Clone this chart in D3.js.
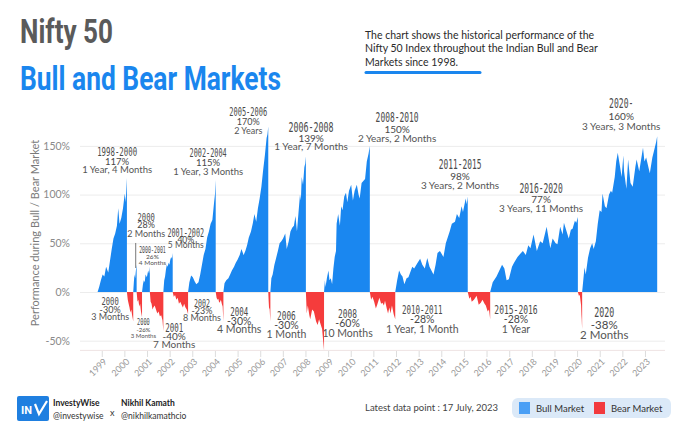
<!DOCTYPE html>
<html><head><meta charset="utf-8">
<script src="https://cdn.jsdelivr.net/npm/d3@7"></script>
<style>
body{margin:0;background:#fff;}
svg{display:block;font-family:Lato,"Open Sans",sans-serif;}
</style></head><body>
<svg id="c" width="690" height="431"></svg>
<script>
// ---------- DATA (cumulative % performance since start of each phase) ----------
const bull1998 = [["1998-10-26",0],["1998-11-20",5],["1998-12-18",12],["1999-01-15",18],["1999-02-12",16],["1999-03-12",26],["1999-04-16",20],["1999-05-14",32],["1999-06-11",44],["1999-07-09",55],["1999-08-06",60],["1999-09-03",68],["1999-09-24",86],["1999-10-15",70],["1999-11-12",76],["1999-12-10",86],["2000-01-07",101],["2000-01-21",92],["2000-02-11",117]];
const bear2000a = [["2000-02-11",0],["2000-02-25",-8],["2000-03-10",-12],["2000-03-24",-16],["2000-04-07",-21],["2000-04-21",-18],["2000-05-05",-24],["2000-05-23",-30]];
const bull2000a = [["2000-05-23",0],["2000-06-02",10],["2000-06-12",18],["2000-06-23",14],["2000-07-05",22],["2000-07-17",28]];
const bear2000b = [["2000-07-17",0],["2000-07-31",-10],["2000-08-14",-8],["2000-08-28",-15],["2000-09-11",-12],["2000-09-25",-20],["2000-10-12",-26]];
const bull2000b = [["2000-10-12",0],["2000-10-27",8],["2000-11-10",12],["2000-11-24",10],["2000-12-08",18],["2000-12-29",15],["2001-01-19",22],["2001-02-02",19],["2001-02-15",26]];
const bear2001 = [["2001-02-15",0],["2001-02-28",-10],["2001-03-15",-12],["2001-03-30",-18],["2001-04-12",-16],["2001-05-04",-14],["2001-05-25",-18],["2001-06-15",-22],["2001-07-06",-20],["2001-07-27",-25],["2001-08-17",-24],["2001-09-07",-29],["2001-09-21",-40]];
const bull2001 = [["2001-09-21",0],["2001-10-05",12],["2001-10-19",16],["2001-11-02",23],["2001-11-16",28],["2001-11-30",26],["2001-12-14",30],["2001-12-28",28],["2002-01-11",33],["2002-01-25",36],["2002-02-08",34],["2002-02-19",40]];
const bear2002 = [["2002-02-19",0],["2002-03-08",-5],["2002-03-29",-3],["2002-04-19",-8],["2002-05-10",-6],["2002-05-31",-12],["2002-06-21",-10],["2002-07-12",-13],["2002-08-02",-16],["2002-08-23",-12],["2002-09-13",-16],["2002-10-04",-18],["2002-10-25",-23]];
const bull2002 = [["2002-10-25",0],["2002-11-15",10],["2002-12-13",17],["2003-01-10",15],["2003-02-07",11],["2003-03-07",8],["2003-04-11",10],["2003-05-09",18],["2003-06-06",28],["2003-07-04",38],["2003-08-01",44],["2003-08-29",56],["2003-09-26",62],["2003-10-24",70],["2003-11-21",74],["2003-12-19",92],["2004-01-02",100],["2004-01-14",115]];
const bear2004 = [["2004-01-14",0],["2004-01-28",-6],["2004-02-11",-8],["2004-02-25",-7],["2004-03-10",-11],["2004-03-24",-10],["2004-04-07",-8],["2004-04-21",-12],["2004-05-05",-15],["2004-05-17",-30]];
const bull2004 = [["2004-05-17",0],["2004-06-04",9],["2004-07-02",12],["2004-08-06",14],["2004-09-03",18],["2004-10-01",22],["2004-11-05",26],["2004-12-03",30],["2004-12-31",33],["2005-02-04",38],["2005-03-04",44],["2005-04-08",38],["2005-05-06",42],["2005-06-03",48],["2005-07-01",56],["2005-08-05",62],["2005-09-02",70],["2005-09-30",80],["2005-10-28",72],["2005-11-25",86],["2005-12-23",96],["2006-01-20",108],["2006-02-17",125],["2006-03-17",140],["2006-04-14",158],["2006-04-28",162],["2006-05-11",170]];
const bear2006 = [["2006-05-11",0],["2006-05-18",-10],["2006-05-25",-18],["2006-06-01",-16],["2006-06-08",-24],["2006-06-14",-30]];
const bull2006 = [["2006-06-14",0],["2006-06-30",14],["2006-07-21",18],["2006-08-18",28],["2006-09-15",35],["2006-10-13",42],["2006-11-10",50],["2006-12-08",52],["2007-01-05",55],["2007-02-09",60],["2007-03-05",44],["2007-04-06",52],["2007-05-04",62],["2007-06-01",66],["2007-06-29",68],["2007-07-24",78],["2007-08-17",62],["2007-09-14",84],["2007-10-05",100],["2007-10-19",94],["2007-11-02",118],["2007-11-23",110],["2007-12-14",128],["2007-12-28",132],["2008-01-08",139]];
const bear2008 = [["2008-01-08",0],["2008-01-22",-22],["2008-02-08",-14],["2008-03-04",-24],["2008-03-18",-28],["2008-04-18",-18],["2008-05-16",-20],["2008-06-20",-30],["2008-07-15",-34],["2008-08-08",-28],["2008-09-05",-34],["2008-09-26",-38],["2008-10-10",-48],["2008-10-27",-60]];
const bull2008 = [["2008-10-27",0],["2008-11-10",12],["2008-11-20",5],["2008-12-12",14],["2009-01-06",22],["2009-01-23",12],["2009-02-13",14],["2009-03-06",8],["2009-03-27",24],["2009-04-17",36],["2009-05-08",42],["2009-05-18",70],["2009-06-12",80],["2009-07-10",68],["2009-07-31",88],["2009-08-21",84],["2009-09-18",98],["2009-10-16",102],["2009-11-06",92],["2009-12-04",104],["2010-01-08",110],["2010-02-05",94],["2010-03-05",104],["2010-04-09",110],["2010-05-07",100],["2010-05-25",96],["2010-06-25",112],["2010-07-23",114],["2010-08-20",116],["2010-09-17",134],["2010-10-15",142],["2010-11-05",150]];
const bear2010 = [["2010-11-05",0],["2010-11-26",-8],["2010-12-17",-5],["2011-01-14",-10],["2011-02-10",-17],["2011-03-04",-13],["2011-04-08",-6],["2011-05-06",-12],["2011-05-27",-11],["2011-06-20",-14],["2011-07-08",-9],["2011-08-05",-17],["2011-08-26",-22],["2011-09-16",-16],["2011-10-04",-22],["2011-10-28",-14],["2011-11-25",-23],["2011-12-20",-28]];
const bull2011 = [["2011-12-20",0],["2012-01-20",12],["2012-02-20",22],["2012-03-20",18],["2012-04-15",16],["2012-05-15",8],["2012-06-20",14],["2012-07-20",15],["2012-09-20",26],["2012-10-20",24],["2012-12-15",30],["2013-01-25",34],["2013-03-01",28],["2013-04-10",24],["2013-05-20",35],["2013-06-25",26],["2013-08-28",18],["2013-10-01",28],["2013-11-01",40],["2013-12-10",42],["2014-02-05",36],["2014-03-15",50],["2014-05-16",62],["2014-06-20",70],["2014-08-10",72],["2014-09-10",80],["2014-10-17",76],["2014-11-25",88],["2014-12-17",82],["2015-01-30",96],["2015-02-15",90],["2015-03-04",98]];
const bear2015 = [["2015-03-04",0],["2015-03-30",-7],["2015-04-20",-5],["2015-05-07",-10],["2015-06-12",-8],["2015-07-25",-4],["2015-08-28",-13],["2015-09-30",-11],["2015-10-28",-8],["2015-11-30",-12],["2015-12-20",-14],["2016-01-20",-20],["2016-02-10",-18],["2016-02-29",-28]];
const bull2016 = [["2016-02-29",0],["2016-04-10",10],["2016-06-10",16],["2016-08-10",24],["2016-09-08",28],["2016-10-15",24],["2016-11-20",12],["2016-12-26",13],["2017-02-15",26],["2017-03-20",30],["2017-05-15",36],["2017-07-10",40],["2017-08-10",42],["2017-09-25",38],["2017-11-05",48],["2017-12-10",45],["2018-01-29",59],["2018-03-23",42],["2018-05-15",52],["2018-06-25",50],["2018-08-28",67],["2018-10-26",45],["2018-12-03",55],["2019-01-20",50],["2019-02-19",49],["2019-04-03",67],["2019-05-13",59],["2019-06-03",71],["2019-08-20",55],["2019-09-23",64],["2019-10-20",65],["2019-11-27",73],["2019-12-20",71],["2020-01-14",77]];
const bear2020 = [["2020-01-14",0],["2020-01-31",-4],["2020-02-14",-3],["2020-02-28",-10],["2020-03-06",-14],["2020-03-12",-24],["2020-03-16",-28],["2020-03-19",-33],["2020-03-23",-38]];
const bull2020 = [["2020-03-23",0],["2020-04-30",25],["2020-05-20",18],["2020-06-25",35],["2020-07-30",45],["2020-09-01",50],["2020-09-25",44],["2020-10-30",52],["2020-11-30",70],["2020-12-31",84],["2021-01-29",82],["2021-02-15",101],["2021-03-25",88],["2021-04-20",86],["2021-05-31",100],["2021-06-30",104],["2021-07-20",102],["2021-08-31",118],["2021-09-24",134],["2021-10-19",143],["2021-11-26",128],["2021-12-20",118],["2022-01-17",140],["2022-01-28",124],["2022-03-07",106],["2022-04-04",136],["2022-05-12",112],["2022-06-17",108],["2022-07-29",128],["2022-08-19",136],["2022-09-30",124],["2022-11-30",148],["2022-12-23",134],["2023-01-20",138],["2023-03-20",122],["2023-04-30",138],["2023-05-31",146],["2023-06-30",154],["2023-07-17",160]];

const bullPhases = [bull1998,bull2000a,bull2000b,bull2001,bull2002,bull2004,bull2006,bull2008,bull2011,bull2016,bull2020];
const bearPhases = [bear2000a,bear2000b,bear2001,bear2002,bear2004,bear2006,bear2008,bear2010,bear2015,bear2020];

const tickYears = d3.range(1999, 2024);
const yTicks = [-50, 0, 50, 100, 150];

const annoYear = ["1998-2000","2002-2004","2005-2006","2006-2008","2008-2010","2011-2015","2016-2020","2020-",
  "2000","2000-2001","2001-2002","2000","2000","2001","2002","2004","2006","2008","2010-2011","2015-2016","2020"];
const annoPct = ["117%","115%","170%","139%","150%","98%","77%","160%",
  "28%","26%","40%","-30%","-26%","-40%","-23%","-30%","-30%","-60%","-28%","-28%","-38%"];
const annoDur = ["1 Year, 4 Months","1 Year, 3 Months","2 Years","1 Year, 7 Months","2 Years, 2 Months","3 Years, 2 Months","3 Years, 11 Months","3 Years, 3 Months",
  "2 Months","4 Months","5 Months","3 Months","3 Months","7 Months","8 Months","4 Months","1 Month","10 Months","1 Year, 1 Month","1 Year","2 Months"];

// ---------- LAYOUT (anchor in data space: fractional year, % ; then pixel offsets & sizes) ----------
const annoLayout = [
  [1999.68,139.1,8.8,17,40,13,9.5],
  [2003.70,138.9,9.5,18,37,13,9.5],
  [2005.47,180.7,9.2,18.5,38,12.5,9],
  [2008.25,164.6,10.2,18.8,45,14,10],
  [2012.05,174.5,10.7,20,43,14,10],
  [2014.83,126.2,11,20,42.7,14,10],
  [2018.41,101.3,9.6,18.6,43.3,14,10],
  [2021.95,188.9,12,22,24.3,14,10],
  [2000.96,72.9,7.5,16.3,17.3,11,9],
  [2001.24,40.3,5.8,11.8,26.7,8,6.5],
  [2002.71,56.7,6,11,36.7,12,8.5],
  [1999.37,-13.4,7.5,15.2,17.3,11,9],
  [2000.84,-33.9,7,13,12.7,8,6],
  [2002.20,-40.8,8.5,15.8,18,12,10],
  [2003.43,-15.1,7,14.2,16,11,9],
  [2005.07,-24.7,8.5,16.9,18,13,10.5],
  [2007.16,-28.8,9.3,18.3,18.7,13,10.5],
  [2009.86,-27.0,9.2,18.4,19,13,10.5],
  [2013.16,-22.6,9.5,18.8,40.7,13,10.5],
  [2017.30,-22.6,9.5,18.8,43.3,13,10.5],
  [2021.20,-25.4,12.3,22.3,20,14,11.5]
];

const BULL = "#1a87f0", BEAR = "#f53c3c";
const parse = d3.timeParse("%Y-%m-%d");
const fy = f => { const yy = Math.floor(f), s = new Date(yy,0,1), e = new Date(yy+1,0,1); return new Date(+s + (f-yy)*(e-s)); };

const svg = d3.select("#c");
const x = d3.scaleTime().domain([new Date(1998,0,15), new Date(2023,10,20)]).range([80, 665]);
const y = d3.scaleLinear().domain([-60, 170]).range([350.4, 126.4]);

// gridlines + y labels
const yAxis = d3.axisLeft(y).tickValues(yTicks).tickSize(-585).tickPadding(10).tickFormat(d => d + "%");
const gy = svg.append("g").attr("transform","translate(80,0)").call(yAxis);
gy.select(".domain").remove();
gy.selectAll(".tick line").attr("stroke","#ececec").attr("stroke-width",1);
gy.selectAll(".tick text").attr("fill","#8a8a8a").attr("font-size",10.5).attr("font-family","Lato");
svg.append("line").attr("x1",80).attr("x2",665).attr("y1",y(-60)).attr("y2",y(-60)).attr("stroke","#efe4e4");

// areas
const area = d3.area().x(d => x(parse(d[0]))).y0(y(0)).y1(d => y(d[1]));
svg.append("g").selectAll("path").data(bullPhases).join("path").attr("d", area).attr("fill", BULL);
svg.append("g").selectAll("path").data(bearPhases).join("path").attr("d", area).attr("fill", BEAR);

// x axis
const xAxis = d3.axisBottom(x).tickValues(tickYears.map(v => new Date(v,0,1))).tickSize(6).tickFormat(d3.timeFormat("%Y"));
const gx = svg.append("g").attr("transform","translate(0,351)").call(xAxis);
gx.select(".domain").remove();
gx.selectAll(".tick line").attr("stroke","#dddddd");
gx.selectAll(".tick text").attr("fill","#9a9a9a").attr("font-size",9).attr("font-family","Lato")
  .attr("text-anchor","end").attr("transform","translate(3,9) rotate(-45)").attr("dy","0.35em").attr("y",0).attr("x",0);

// y axis title
svg.append("text").attr("transform","translate(39,233) rotate(-90)").attr("text-anchor","middle")
  .attr("font-size",11).attr("fill","#7a7a7a").text("Performance during Bull / Bear Market");

// leader line for 2000 (28%) annotation
svg.append("line").attr("x1",x(fy(2000.50))).attr("x2",x(fy(2000.50))).attr("y1",y(50.3)).attr("y2",y(24.6))
  .attr("stroke","#555").attr("stroke-width",0.8);

// annotations: one text block per phase, three lines as tspans
const ag = svg.append("g");
annoLayout.forEach((L,i) => {
  const cx = x(fy(L[0])), by = y(L[1]);
  const t = ag.append("text").attr("text-anchor","middle");
  t.append("tspan").attr("x",cx).attr("y",by)
    .attr("font-family","DejaVu Sans Mono").attr("font-size",L[5]).attr("fill","#4a4a4a")
    .attr("textLength",L[4]).attr("lengthAdjust","spacingAndGlyphs").text(annoYear[i]);
  t.append("tspan").attr("x",cx).attr("y",by+L[2])
    .attr("font-size",L[6]).attr("fill","#484848").text(annoPct[i]);
  t.append("tspan").attr("x",cx).attr("y",by+L[3])
    .attr("font-size",L[6]).attr("fill","#555").text(annoDur[i]);
});

// titles
svg.append("text").attr("x",20).attr("y",43).attr("font-family","Roboto").attr("font-weight",700)
  .attr("font-size",34).attr("fill","#5a5a5a").attr("textLength",93).attr("lengthAdjust","spacingAndGlyphs").text("Nifty 50");
svg.append("text").attr("x",20).attr("y",90).attr("font-family","Roboto").attr("font-weight",700)
  .attr("font-size",34).attr("fill","#1a86ee").attr("textLength",261).attr("lengthAdjust","spacingAndGlyphs").text("Bull and Bear Markets");

const desc = ["The chart shows the historical performance of the","Nifty 50 Index throughout the Indian Bull and Bear","Markets since 1998."];
svg.append("g").selectAll("text").data(desc).join("text").attr("x",365).attr("y",(d,i)=>38.5+i*13.5)
  .attr("font-size",10.5).attr("fill","#2a2a2a").text(d=>d);
svg.append("line").attr("x1",366).attr("x2",480).attr("y1",72.5).attr("y2",72.5)
  .attr("stroke","#1a86ee").attr("stroke-width",3).attr("stroke-linecap","round");

// footer
svg.append("rect").attr("x",17).attr("y",396).attr("width",32).attr("height",25).attr("rx",2).attr("fill","#1f7fe0");
svg.append("text").attr("x",21).attr("y",413.5).attr("font-family","Roboto").attr("font-weight",700).attr("font-size",11).attr("fill","#fff").text("IN");
svg.append("path").attr("d","M35,404 L39,414 L47,401").attr("fill","none").attr("stroke","#fff").attr("stroke-width",2.2);
const brand = svg.append("text").attr("font-size",8.5);
brand.append("tspan").attr("x",53).attr("y",406).attr("font-weight",700).attr("fill","#222").text("InvestyWise");
brand.append("tspan").attr("x",53).attr("y",419).attr("fill","#333").text("@investywise");
svg.append("text").attr("x",110).attr("y",416).attr("font-size",9).attr("fill","#333").text("x");
const nk = svg.append("text").attr("font-size",8.5);
nk.append("tspan").attr("x",121).attr("y",406).attr("font-weight",700).attr("fill","#222").text("Nikhil Kamath");
nk.append("tspan").attr("x",121).attr("y",419).attr("fill","#333").text("@nikhilkamathcio");

svg.append("text").attr("x",365).attr("y",411).attr("font-size",9.5).attr("fill","#444").text("Latest data point : 17 July, 2023");

const legendItems = ["Bull Market","Bear Market"];
const legendColors = ["#4a9ff5","#f23a3e"];
svg.append("rect").attr("x",512).attr("y",398).attr("width",159).attr("height",20).attr("rx",6).attr("fill","#dbe9f8");
legendItems.forEach((t,i) => {
  const lx = 519 + i*75;
  svg.append("rect").attr("x",lx).attr("y",402).attr("width",11).attr("height",12).attr("fill",legendColors[i]);
  svg.append("text").attr("x",lx+17).attr("y",411.5).attr("font-size",9.5).attr("fill","#333").text(t);
});
</script>
</body></html>
